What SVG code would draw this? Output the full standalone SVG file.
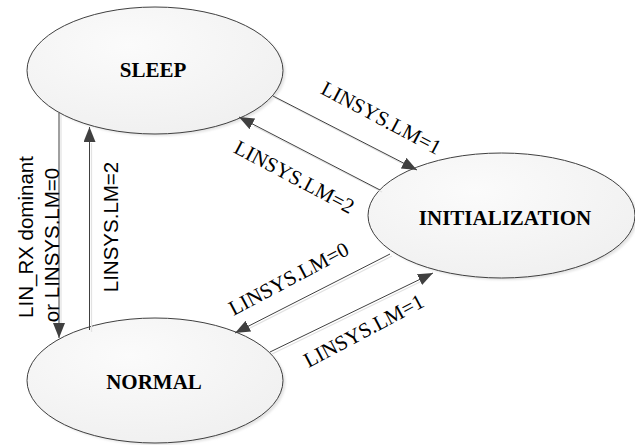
<svg xmlns="http://www.w3.org/2000/svg" xmlns:xlink="http://www.w3.org/1999/xlink" width="635" height="445" viewBox="0 0 635 445">
  <style>
    .state { fill: url(#stateFill); stroke: #404040; stroke-width: 1; }
    .state-shadow { fill: #e4e4e4; stroke: none; filter: url(#soft); }
    .state-label { font-family: "Liberation Serif", "Times New Roman", serif; font-weight: bold; font-size: 21px; fill: #000; text-anchor: middle; }
    .edge { stroke: #404040; stroke-width: 1; fill: none; marker-end: url(#arrow); }
    .edge-shadow { stroke: #e2e2e2; stroke-width: 1.2; fill: none; }
    .tlabel { font-family: "Liberation Serif", "Times New Roman", serif; font-size: 21px; fill: #000; text-anchor: middle; }
    .vlabel { font-family: "Liberation Sans", Arial, sans-serif; font-size: 20.5px; fill: #000; text-anchor: middle; }
  </style>
  <defs>
    <radialGradient id="stateFill" cx="0.4" cy="0.3" r="0.8">
      <stop offset="0" stop-color="#fbfbfb"/>
      <stop offset="1" stop-color="#efefef"/>
    </radialGradient>
    <filter id="soft" x="-10%" y="-10%" width="120%" height="120%">
      <feGaussianBlur stdDeviation="1"/>
    </filter>
    <marker id="arrow" markerUnits="userSpaceOnUse" markerWidth="16" markerHeight="13" refX="15" refY="6" orient="auto">
      <path d="M0,0 L15,6 L0,12 Z" fill="#404040"/>
    </marker>
  </defs>

  <rect width="635" height="445" fill="#ffffff"/>

  <!-- state: SLEEP -->
  <g id="sleep">
    <ellipse class="state-shadow" cx="157.5" cy="72.5" rx="128" ry="63.5"/>
    <ellipse class="state" cx="155" cy="70.5" rx="128" ry="63.5"/>
    <text class="state-label" x="153" y="77">SLEEP</text>
  </g>

  <!-- state: INITIALIZATION -->
  <g id="initialization">
    <ellipse class="state-shadow" cx="504" cy="217.5" rx="133.5" ry="62.5"/>
    <ellipse class="state" cx="501.5" cy="215.5" rx="133.5" ry="62.5"/>
    <text class="state-label" x="505" y="225">INITIALIZATION</text>
  </g>

  <!-- state: NORMAL -->
  <g id="normal">
    <ellipse class="state-shadow" cx="157.5" cy="382.5" rx="128" ry="62.5"/>
    <ellipse class="state" cx="155" cy="380.5" rx="128" ry="62.5"/>
    <text class="state-label" x="154" y="389">NORMAL</text>
  </g>

  <!-- transitions -->
  <g id="connectors">
    <g transform="translate(2,2)">
      <line class="edge-shadow" x1="273" y1="96" x2="405" y2="164"/>
      <line class="edge-shadow" x1="380" y1="190" x2="252" y2="124"/>
      <line class="edge-shadow" x1="59" y1="113" x2="59" y2="324"/>
      <line class="edge-shadow" x1="89.5" y1="330" x2="89.5" y2="141"/>
      <line class="edge-shadow" x1="390" y1="254" x2="248" y2="326"/>
      <line class="edge-shadow" x1="270" y1="352" x2="420" y2="279"/>
    </g>
    <line class="edge" x1="273" y1="96" x2="417" y2="170"/>
    <line class="edge" x1="380" y1="190" x2="239" y2="117"/>
    <line class="edge" x1="59" y1="113" x2="59" y2="338"/>
    <line class="edge" x1="89.5" y1="330" x2="89.5" y2="127"/>
    <line class="edge" x1="390" y1="254" x2="235" y2="333"/>
    <line class="edge" x1="270" y1="352" x2="433" y2="273"/>

    <!-- transition labels -->
    <text class="tlabel" transform="translate(378,124) rotate(28)">LINSYS.LM=1</text>
    <text class="tlabel" transform="translate(291,183) rotate(28)">LINSYS.LM=2</text>
    <text class="tlabel" transform="translate(292,285) rotate(-28)">LINSYS.LM=0</text>
    <text class="tlabel" transform="translate(367,337) rotate(-28)">LINSYS.LM=1</text>
    <text class="vlabel" transform="translate(33,237) rotate(-90)">LIN_RX dominant</text>
    <text class="vlabel" transform="translate(59,245) rotate(-90)">or LINSYS.LM=0</text>
    <text class="vlabel" transform="translate(118,227) rotate(-90)">LINSYS.LM=2</text>
  </g>
</svg>
